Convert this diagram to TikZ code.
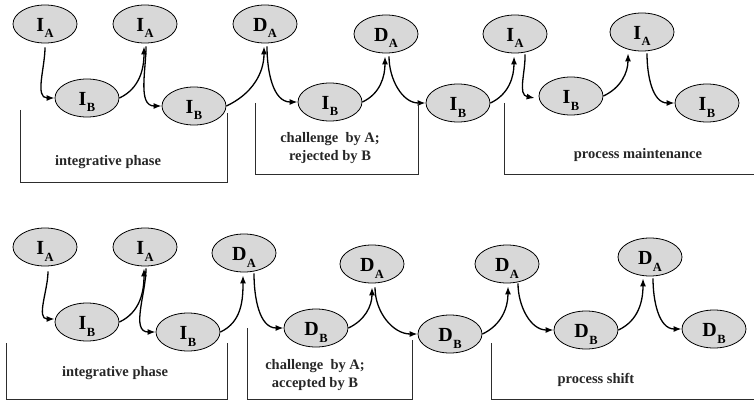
\documentclass[tikz,border=0pt]{standalone}
\usepackage{fontspec}
\setmainfont{Liberation Serif}
\usetikzlibrary{arrows.meta,shapes.geometric}
\definecolor{stfill}{RGB}{216,216,216}
\definecolor{linegray}{RGB}{45,45,45}
% state label: big letter with a lowered subscript letter
\newcommand\stlab[2]{{\fontsize{20}{20}\selectfont #1}\kern0.5pt\raisebox{-6.5pt}{\fontsize{12.5}{12.5}\selectfont #2}}

\begin{document}
\begin{tikzpicture}[x=1pt,y=-1pt,
  st/.style={ellipse,draw=black,line width=0.8pt,fill=stfill,
    minimum width=64pt,minimum height=38pt,inner sep=0pt,
    text height=15pt,text depth=0pt,font=\bfseries},
  arr/.style={line width=1.3pt,-{Latex[length=8pt,width=6pt]}},
  brk/.style={draw=linegray,line width=0.9pt},
  captxt/.style={font=\bfseries\fontsize{14.5}{18}\selectfont,align=center,inner sep=0pt,text=black!85}]
\useasboundingbox (0,0) rectangle (754,401);

% ---------------- upper sequence ----------------
\node[st] (tIA1) at (45,24)  {\stlab{I}{A}};
\node[st] (tIB1) at (87,98)  {\stlab{I}{B}};
\node[st] (tIA2) at (145,24) {\stlab{I}{A}};
\node[st] (tIB2) at (194,106) {\stlab{I}{B}};
\node[st] (tDA1) at (265,24) {\stlab{D}{A}};
\node[st] (tIB3) at (330,102) {\stlab{I}{B}};
\node[st] (tDA2) at (386,34) {\stlab{D}{A}};
\node[st] (tIB4) at (458,103) {\stlab{I}{B}};
\node[st] (tIA3) at (515,34) {\stlab{I}{A}};
\node[st] (tIB5) at (571,96) {\stlab{I}{B}};
\node[st] (tIA4) at (642,32) {\stlab{I}{A}};
\node[st] (tIB6) at (707,103) {\stlab{I}{B}};

\draw[arr] ([yshift=-4pt]tIA1.south) to[out=-90,in=180] (tIB1.west);
\draw[arr] (tIB1.east) to[out=25,in=-90] ([xshift=-1pt,yshift=-3pt]tIA2.south);
\draw[arr] ([xshift=1pt,yshift=-3pt]tIA2.south) to[out=-90,in=180] (tIB2.west);
\draw[arr] (tIB2.east) to[out=25,in=-90] ([xshift=-1pt,yshift=-3pt]tDA1.south);
\draw[arr] ([xshift=2pt,yshift=-3pt]tDA1.south) to[out=-90,in=180] (tIB3.west);
\draw[arr] (tIB3.east) to[out=25,in=-90] ([xshift=-1pt,yshift=-3pt]tDA2.south);
\draw[arr] ([xshift=3pt,yshift=-3pt]tDA2.south) to[out=-90,in=180] (tIB4.west);
\draw[arr] (tIB4.east) to[out=25,in=-90] ([xshift=-1pt,yshift=-3pt]tIA3.south);
\draw[arr] ([xshift=10pt,yshift=-1pt]tIA3.south) to[out=-88,in=170] ([xshift=-4pt,yshift=-2pt]tIB5.west);
\draw[arr] (tIB5.east) to[out=25,in=-90] ([xshift=-14pt,yshift=-2pt]tIA4.south);
\draw[arr] ([xshift=5pt,yshift=-2pt]tIA4.south) to[out=-90,in=180] (tIB6.west);

\draw[brk] (20,110) -- (20,182) -- (227,182) -- (227,113);
\draw[brk] (255,103) -- (255,174) -- (418,174) -- (418,103);
\draw[brk] (504,103) -- (504,174) -- (754,174);

\node[captxt] (tcap1) at (108,162) {integrative phase};
\node[captxt] (tcap2) at (330,148) {challenge\ \ by A;\\rejected by B};
\node[captxt] (tcap3) at (638,155) {process maintenance};

% ---------------- lower sequence ----------------
\node[st] (bIA1) at (45,247)  {\stlab{I}{A}};
\node[st] (bIB1) at (87,322)  {\stlab{I}{B}};
\node[st] (bIA2) at (145,247) {\stlab{I}{A}};
\node[st] (bIB2) at (188,332) {\stlab{I}{B}};
\node[st] (bDA1) at (244,253) {\stlab{D}{A}};
\node[st] (bDB1) at (316,328) {\stlab{D}{B}};
\node[st] (bDA2) at (372,264) {\stlab{D}{A}};
\node[st] (bDB2) at (450,334) {\stlab{D}{B}};
\node[st] (bDA3) at (507,264) {\stlab{D}{A}};
\node[st] (bDB3) at (586,330) {\stlab{D}{B}};
\node[st] (bDA4) at (650,257) {\stlab{D}{A}};
\node[st] (bDB4) at (714,329) {\stlab{D}{B}};

\draw[arr] ([xshift=3pt,yshift=-5pt]bIA1.south) to[out=-90,in=180] ([yshift=3pt]bIB1.west);
\draw[arr] (bIB1.east) to[out=25,in=-90] ([xshift=-1pt,yshift=-2pt]bIA2.south);
\draw[arr] ([xshift=1pt,yshift=-2pt]bIA2.south) to[out=-90,in=180] (bIB2.west);
\draw[arr] (bIB2.east) to[out=25,in=-90] ([xshift=-1pt,yshift=-3pt]bDA1.south);
\draw[arr] ([xshift=10pt,yshift=-1pt]bDA1.south) to[out=-90,in=180] (bDB1.west);
\draw[arr] (bDB1.east) to[out=25,in=-90] ([xshift=0pt,yshift=-4pt]bDA2.south);
\draw[arr] ([xshift=3pt,yshift=-4pt]bDA2.south) to[out=-90,in=180] (bDB2.west);
\draw[arr] (bDB2.east) to[out=25,in=-90] ([xshift=1pt,yshift=-3pt]bDA3.south);
\draw[arr] ([xshift=11pt,yshift=0pt]bDA3.south) to[out=-90,in=180] (bDB3.west);
\draw[arr] (bDB3.east) to[out=25,in=-90] ([xshift=-7pt,yshift=-2pt]bDA4.south);
\draw[arr] ([xshift=3pt,yshift=-2pt]bDA4.south) to[out=-90,in=180] (bDB4.west);

\draw[brk] (6,343) -- (6,399) -- (227,399) -- (227,343);
\draw[brk] (247,328) -- (247,399) -- (412,399) -- (412,340);
\draw[brk] (491,343) -- (491,399) -- (754,399);

\node[captxt] (bcap1) at (115,373) {integrative phase};
\node[captxt] (bcap2) at (315,375) {challenge\ \ by A;\\accepted by B};
\node[captxt] (bcap3) at (596,380) {process shift};
\end{tikzpicture}
\end{document}
